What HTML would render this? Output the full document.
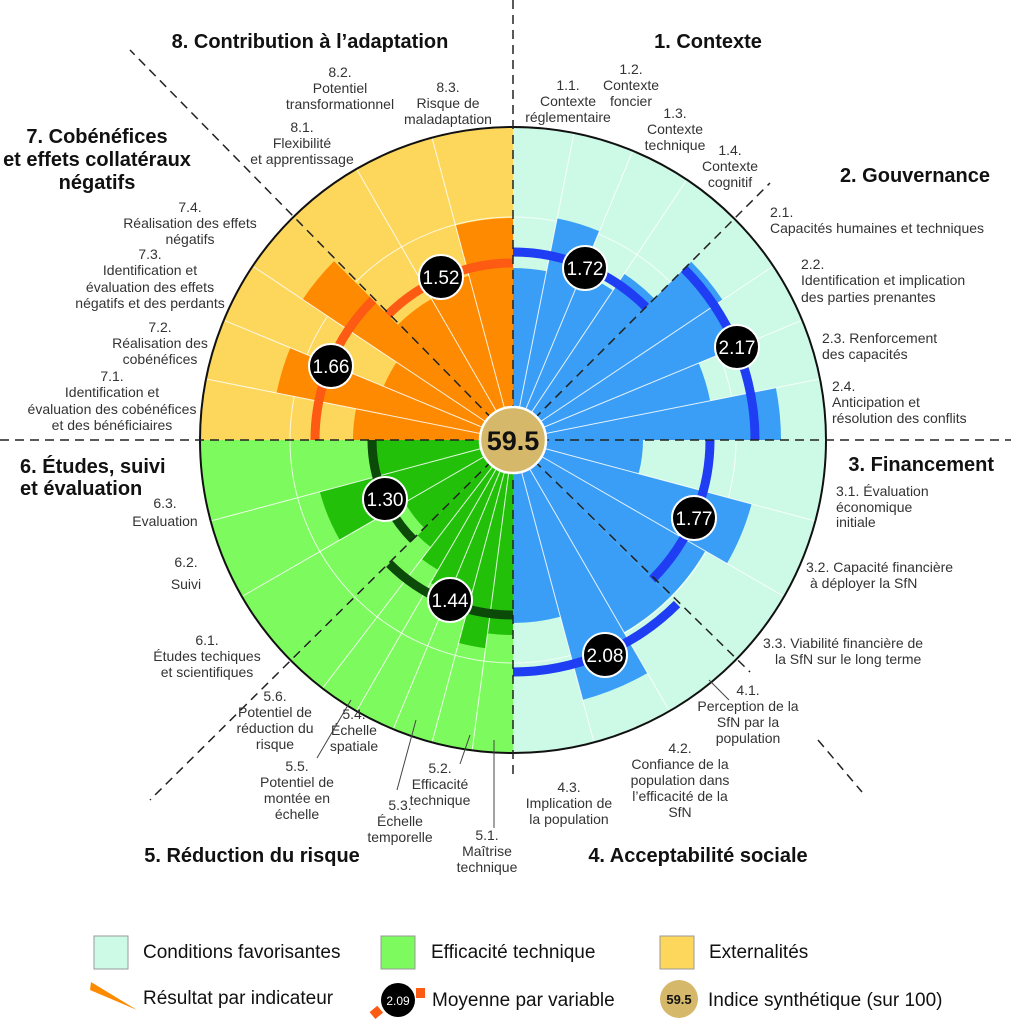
<!DOCTYPE html>
<html><head><meta charset="utf-8"><style>
html,body{margin:0;padding:0;background:#fff;}
svg{display:block;}
text{font-family:"Liberation Sans",sans-serif;}
.l{font-size:14px;fill:#333;}
.h{font-size:20px;font-weight:bold;fill:#111;}
.g{font-size:19px;fill:#111;}
</style></head><body>
<svg id="s" width="1011" height="1024" viewBox="0 0 1011 1024" xmlns="http://www.w3.org/2000/svg">
<g id="chart"></g>
<g id="over">
<circle cx="513" cy="440" r="313" fill="none" stroke="#111" stroke-width="2"/>
<g stroke="#222" stroke-width="1.5" stroke-dasharray="9,6" fill="none">
<line x1="513" y1="0" x2="513" y2="780"/>
<line x1="0" y1="440" x2="1011" y2="440"/>
<line x1="513" y1="440" x2="770" y2="183"/>
<line x1="513" y1="440" x2="130" y2="50"/>
<line x1="513" y1="440" x2="150" y2="800"/>
<line x1="513" y1="440" x2="750" y2="672"/>
<line x1="818" y1="740" x2="862" y2="792"/>
</g>
<g stroke="#444" stroke-width="1">
<line x1="494" y1="740" x2="494" y2="828"/>
<line x1="470" y1="735" x2="460" y2="764"/>
<line x1="416" y1="720" x2="397" y2="790"/>
<line x1="351" y1="700" x2="317" y2="758"/>
<line x1="709" y1="680" x2="729" y2="700"/>
</g>
<circle cx="513" cy="440" r="33" fill="#d6b86a" stroke="#fff" stroke-width="2.5"/>
<text x="513" y="450" text-anchor="middle" style="font-size:27px;font-weight:bold;fill:#111">59.5</text>
</g>
<g id="means"></g>

<text class="h" x="310" y="48" text-anchor="middle">8. Contribution à l’adaptation</text>
<text class="h" x="708" y="48" text-anchor="middle">1. Contexte</text>
<text class="h" x="990" y="182" text-anchor="end">2. Gouvernance</text>
<text class="h" x="994" y="471" text-anchor="end">3. Financement</text>
<text class="h" x="698" y="862" text-anchor="middle">4. Acceptabilité sociale</text>
<text class="h" x="252" y="862" text-anchor="middle">5. Réduction du risque</text>
<text class="h" x="20" y="473">6. Études, suivi</text>
<text class="h" x="20" y="495">et évaluation</text>
<text class="h" x="97" y="143" text-anchor="middle">7. Cobénéfices</text>
<text class="h" x="97" y="166" text-anchor="middle">et effets collatéraux</text>
<text class="h" x="97" y="189" text-anchor="middle">négatifs</text>

<g class="l" text-anchor="middle">
<text x="340" y="77" class="l">8.2.</text><text x="340" y="93" class="l">Potentiel</text><text x="340" y="109" class="l">transformationnel</text>
<text x="448" y="92" class="l">8.3.</text><text x="448" y="108" class="l">Risque de</text><text x="448" y="124" class="l">maladaptation</text>
<text x="302" y="132" class="l">8.1.</text><text x="302" y="148" class="l">Flexibilité</text><text x="302" y="164" class="l">et apprentissage</text>
<text x="568" y="90" class="l">1.1.</text><text x="568" y="106" class="l">Contexte</text><text x="568" y="122" class="l">réglementaire</text>
<text x="631" y="74" class="l">1.2.</text><text x="631" y="90" class="l">Contexte</text><text x="631" y="106" class="l">foncier</text>
<text x="675" y="118" class="l">1.3.</text><text x="675" y="134" class="l">Contexte</text><text x="675" y="150" class="l">technique</text>
<text x="730" y="155" class="l">1.4.</text><text x="730" y="171" class="l">Contexte</text><text x="730" y="187" class="l">cognitif</text>
<text x="748" y="695" class="l">4.1.</text><text x="748" y="711" class="l">Perception de la</text><text x="748" y="727" class="l">SfN par la</text><text x="748" y="743" class="l">population</text>
<text x="680" y="753" class="l">4.2.</text><text x="680" y="769" class="l">Confiance de la</text><text x="680" y="785" class="l">population dans</text><text x="680" y="801" class="l">l’efficacité de la</text><text x="680" y="817" class="l">SfN</text>
<text x="569" y="792" class="l">4.3.</text><text x="569" y="808" class="l">Implication de</text><text x="569" y="824" class="l">la population</text>
<text x="487" y="840" class="l">5.1.</text><text x="487" y="856" class="l">Maîtrise</text><text x="487" y="872" class="l">technique</text>
<text x="440" y="773" class="l">5.2.</text><text x="440" y="789" class="l">Efficacité</text><text x="440" y="805" class="l">technique</text>
<text x="400" y="810" class="l">5.3.</text><text x="400" y="826" class="l">Échelle</text><text x="400" y="842" class="l">temporelle</text>
<text x="354" y="719" class="l">5.4.</text><text x="354" y="735" class="l">Échelle</text><text x="354" y="751" class="l">spatiale</text>
<text x="297" y="771" class="l">5.5.</text><text x="297" y="787" class="l">Potentiel de</text><text x="297" y="803" class="l">montée en</text><text x="297" y="819" class="l">échelle</text>
<text x="275" y="701" class="l">5.6.</text><text x="275" y="717" class="l">Potentiel de</text><text x="275" y="733" class="l">réduction du</text><text x="275" y="749" class="l">risque</text>
<text x="207" y="645" class="l">6.1.</text><text x="207" y="661" class="l">Études techiques</text><text x="207" y="677" class="l">et scientifiques</text>
<text x="186" y="567" class="l">6.2.</text><text x="186" y="589" class="l">Suivi</text>
<text x="165" y="508" class="l">6.3.</text><text x="165" y="526" class="l">Evaluation</text>
<text x="112" y="381" class="l">7.1.</text><text x="112" y="397" class="l">Identification et</text><text x="112" y="414" class="l">évaluation des cobénéfices</text><text x="112" y="430" class="l">et des bénéficiaires</text>
<text x="160" y="332" class="l">7.2.</text><text x="160" y="348" class="l">Réalisation des</text><text x="160" y="364" class="l">cobénéfices</text>
<text x="150" y="259" class="l">7.3.</text><text x="150" y="275" class="l">Identification et</text><text x="150" y="292" class="l">évaluation des effets</text><text x="150" y="308" class="l">négatifs et des perdants</text>
<text x="190" y="212" class="l">7.4.</text><text x="190" y="228" class="l">Réalisation des effets</text><text x="190" y="244" class="l">négatifs</text>
</g>
<g text-anchor="start">
<text x="770" y="217" class="l">2.1.</text><text x="770" y="233" class="l">Capacités humaines et techniques</text>
<text x="801" y="269" class="l">2.2.</text><text x="801" y="285" class="l">Identification et implication</text><text x="801" y="302" class="l">des parties prenantes</text>
<text x="822" y="343" class="l">2.3. Renforcement</text><text x="822" y="359" class="l">des capacités</text>
<text x="832" y="391" class="l">2.4.</text><text x="832" y="407" class="l">Anticipation et</text><text x="832" y="423" class="l">résolution des conflits</text>
<text x="836" y="496" class="l">3.1. Évaluation</text><text x="836" y="512" class="l">économique</text><text x="836" y="527" class="l">initiale</text>
<text x="806" y="572" class="l">3.2. Capacité financière</text><text x="810" y="588" class="l">à déployer la SfN</text>
<text x="763" y="648" class="l">3.3. Viabilité financière de</text><text x="775" y="664" class="l">la SfN sur le long terme</text>
</g>

<rect x="94" y="936" width="34" height="33" fill="#ccfae6" stroke="#999"/>
<text class="g" x="143" y="958">Conditions favorisantes</text>
<rect x="381" y="936" width="34" height="33" fill="#7dfb5e" stroke="#999"/>
<text class="g" x="431" y="958">Efficacité technique</text>
<rect x="660" y="936" width="34" height="33" fill="#fdd75c" stroke="#999"/>
<text class="g" x="709" y="958">Externalités</text>
<polygon points="91,982 137,1010 90,990" fill="#fd8a00"/>
<text class="g" x="143" y="1004">Résultat par indicateur</text>
<rect x="371" y="1008" width="10" height="9" fill="#fd5a14" transform="rotate(-40 376 1012)"/>
<rect x="416" y="988" width="9" height="10" fill="#fd5a14"/>
<circle cx="398" cy="1000" r="17" fill="#000"/>
<text x="398" y="1005" text-anchor="middle" style="font-size:12px;fill:#fff">2.09</text>
<text class="g" x="432" y="1006">Moyenne par variable</text>
<circle cx="679" cy="999" r="19" fill="#d6b86a"/>
<text x="679" y="1004" text-anchor="middle" style="font-size:13px;font-weight:bold;fill:#111">59.5</text>
<text class="g" x="708" y="1006">Indice synthétique (sur 100)</text>
</svg>
<script>
(function(){
var cx=513,cy=440,R=313,NS="http://www.w3.org/2000/svg";
function P(r,a){var t=a*Math.PI/180;return [cx+r*Math.sin(t),cy-r*Math.cos(t)];}
function sector(r,a1,a2){var p1=P(r,a1),p2=P(r,a2);return "M"+cx+","+cy+"L"+p1[0].toFixed(2)+","+p1[1].toFixed(2)+"A"+r+","+r+" 0 0 1 "+p2[0].toFixed(2)+","+p2[1].toFixed(2)+"Z";}
function arc(r,a1,a2){var p1=P(r,a1),p2=P(r,a2);return "M"+p1[0].toFixed(2)+","+p1[1].toFixed(2)+"A"+r+","+r+" 0 0 1 "+p2[0].toFixed(2)+","+p2[1].toFixed(2);}
function el(tag,at,parent){var e=document.createElementNS(NS,tag);for(var k in at)e.setAttribute(k,at[k]);parent.appendChild(e);return e;}
var g=document.getElementById("chart"),m=document.getElementById("means");
var C={b:["#ccfae6","#3a9ef6","#1f3ef4"],g:["#7dfb5e","#23c00a","#0c4a0a"],o:["#fdd75c","#fd8a00","#fd5a14"]};
var cats=[
 [0,45,"b",[172,226,180,200],188,"1.72",585,268],
 [45,90,"b",[252,240,201,268],242,"2.17",737,347],
 [90,135,"b",[130,247,222],197,"1.77",694,518],
 [135,180,"b",[222,269,183],232,"2.08",605,655],
 [180,225,"g",[195,210,170,165,150,135],175,"1.44",450,600],
 [225,270,"g",[125,200,140],141,"1.30",385,499],
 [270,315,"o",[160,241,140,253],198,"1.66",331,366],
 [315,360,"o",[163,170,222],177,"1.52",441,277]
];
cats.forEach(function(c){el("path",{d:sector(R,c[0],c[1]),fill:C[c[2]][0]},g);});
el("circle",{cx:cx,cy:cy,r:223,fill:"none",stroke:"#fff","stroke-width":1,"stroke-opacity":0.8},g);
cats.forEach(function(c){var n=c[3].length,w=(c[1]-c[0])/n;
 c[3].forEach(function(r,i){el("path",{d:sector(r,c[0]+i*w,c[0]+(i+1)*w),fill:C[c[2]][1]},g);});
 for(var i=1;i<n;i++){var p=P(R,c[0]+i*w);el("line",{x1:cx,y1:cy,x2:p[0],y2:p[1],stroke:"#fff","stroke-width":1,"stroke-opacity":0.85},g);}
});
cats.forEach(function(c){el("path",{d:arc(c[4],c[0],c[1]),fill:"none",stroke:C[c[2]][2],"stroke-width":9},g);});
cats.forEach(function(c){
 el("circle",{cx:c[6],cy:c[7],r:22,fill:"#000",stroke:"#fff","stroke-width":2},m);
 var t=el("text",{x:c[6],y:c[7]+7,"text-anchor":"middle",style:"font-size:19px;fill:#fff"},m);t.textContent=c[5];
});
})();
</script>
</body></html>
